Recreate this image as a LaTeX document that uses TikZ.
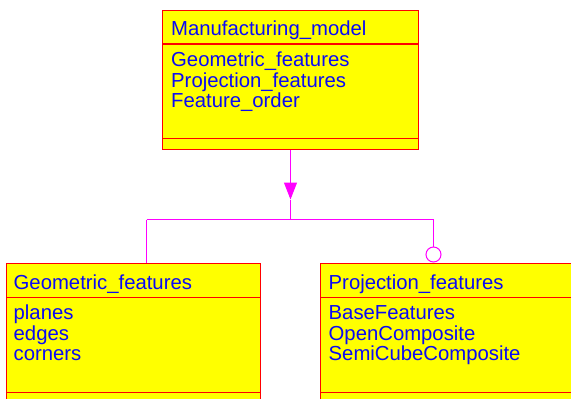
\documentclass[tikz,border=0pt]{standalone}
\usepackage{fontspec}
\setmainfont{Liberation Sans}
\usetikzlibrary{arrows.meta}
\definecolor{clsfill}{RGB}{255,255,0}
\definecolor{clsline}{RGB}{255,0,0}
\definecolor{clstext}{RGB}{10,10,245}
\definecolor{linkcol}{RGB}{255,0,255}
\tikzset{
  cls/.style={draw=clsline, fill=clsfill, line width=1.3pt, rectangle, inner sep=0pt, anchor=north west},
  divider/.style={draw=clsline, line width=1.3pt},
  txt/.style={anchor=base west, inner sep=0pt, text=clstext, font=\fontsize{20.3}{20.4}\selectfont},
  link/.style={draw=linkcol, line width=1pt},
}
\begin{document}
\begin{tikzpicture}[x=1pt, y=-1pt]
\clip (0,0) rectangle (571,399);

% Manufacturing_model class
\node[cls, minimum width=256pt, minimum height=139pt] (mm) at (162,10) {};
\draw[divider] (162,44) -- (418,44);
\draw[divider] (162,138.5) -- (418,138.5);
\node[txt] (mmt) at (171,35.5) {Manufacturing\_model};
\node[txt] (mma1) at (171,66.5) {Geometric\_features};
\node[txt] (mma2) at (171,87) {Projection\_features};
\node[txt] (mma3) at (171,107.5) {Feature\_order};

% Geometric_features class
\node[cls, minimum width=254pt, minimum height=160pt] (gf) at (6,262.5) {};
\draw[divider] (6,297.5) -- (260,297.5);
\draw[divider] (6,392.5) -- (260,392.5);
\node[txt] (gft) at (13.5,289) {Geometric\_features};
\node[txt] (gfa1) at (13.5,319.5) {planes};
\node[txt] (gfa2) at (13.5,340) {edges};
\node[txt] (gfa3) at (13.5,360.5) {corners};

% Projection_features class
\node[cls, minimum width=260pt, minimum height=160pt] (pf) at (320,262.5) {};
\draw[divider] (320,297.5) -- (580,297.5);
\draw[divider] (320,392.5) -- (580,392.5);
\node[txt] (pft) at (328.5,289) {Projection\_features};
\node[txt] (pfa1) at (328.5,319.5) {BaseFeatures};
\node[txt] (pfa2) at (328.5,340) {OpenComposite};
\node[txt] (pfa3) at (328.5,360.5) {SemiCubeComposite};

% Aggregation tree
\coordinate (tip) at (290.5,199.5);
\coordinate (junc) at (290.5,219.5);
\coordinate (lc) at (146.5,219.5);
\coordinate (rc) at (433.5,219.5);
\draw[link, -{Triangle[width=13pt,length=17pt]}] (mm.south -| tip) -- (tip);
\draw[link] (tip) -- (junc);
\draw[link] (lc) -- (rc);
\draw[link] (lc) -- (lc |- gf.north);
\node[draw=linkcol, fill=white, line width=1pt, circle, minimum size=15pt, inner sep=0pt] (opt) at (433.5,254.5) {};
\draw[link] (rc) -- (opt.north);
\end{tikzpicture}
\end{document}
